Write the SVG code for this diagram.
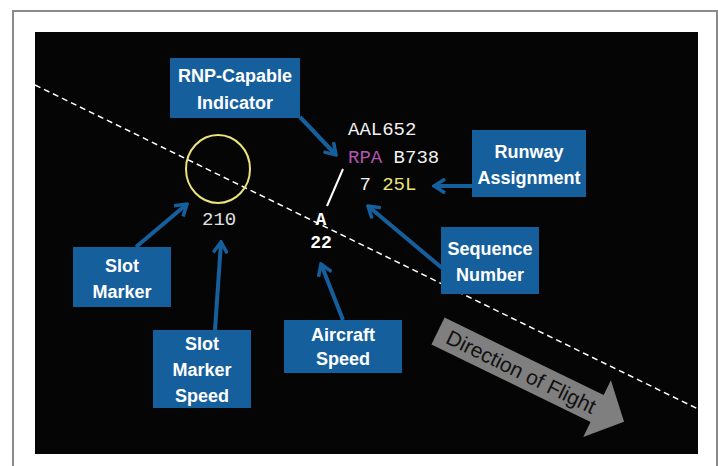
<svg xmlns="http://www.w3.org/2000/svg" width="718" height="466" viewBox="0 0 718 466">
<defs>
<style>
.box{fill:#165f9d}
.lbl{font-family:"Liberation Sans",Arial,sans-serif;font-weight:bold;font-size:18px;fill:#ffffff;text-anchor:middle}
.mono{font-family:"Liberation Mono","DejaVu Sans Mono",monospace;font-size:19px}
.con{stroke:#165f9d;stroke-width:4;fill:none;marker-end:url(#chev)}
</style>
<marker id="chev" viewBox="0 0 14 16" markerWidth="14" markerHeight="16" refX="12" refY="8" orient="auto" markerUnits="userSpaceOnUse">
<path d="M1,1 L12,8 L1,15" fill="none" stroke="#165f9d" stroke-width="3.5"/>
</marker>
</defs>
<rect x="0" y="0" width="718" height="466" fill="#ffffff"/>
<rect x="13" y="11" width="704" height="470" fill="#ffffff" stroke="#8a8a8a" stroke-width="2"/>
<rect x="35" y="32" width="663" height="422" fill="#050505"/>
<line x1="35" y1="85" x2="698" y2="409" stroke="#ffffff" stroke-width="1.5" stroke-dasharray="6,4"/>
<g id="direction">
<g transform="translate(438,331) rotate(26)">
<polygon points="0,-15 177,-15 177,-31.5 207,0 177,31.5 177,15 0,15" fill="#7f7f7f"/>
<text x="11" y="7.5" font-family="Liberation Sans,Arial,sans-serif" font-size="21" fill="#111111">Direction of Flight</text>
</g>
</g>
<g id="slot-marker-circle">
<ellipse cx="218" cy="169" rx="32" ry="34" fill="none" stroke="#ece37a" stroke-width="2"/>
</g>
<g id="data-block">
<text class="mono" x="202" y="225" fill="#e0e0e0">210</text>
<text class="mono" x="348" y="135" fill="#f2f2f2">AAL652</text>
<text class="mono" x="348" y="163"><tspan fill="#b056b0">RPA</tspan><tspan fill="#f2f2f2"> B738</tspan></text>
<text class="mono" x="348" y="190" xml:space="preserve"><tspan fill="#f2f2f2"> 7 </tspan><tspan fill="#ece37a">25L</tspan></text>
<line x1="343" y1="169" x2="327" y2="206" stroke="#ffffff" stroke-width="2"/>
<text x="321" y="225" font-family="Liberation Mono,monospace" font-weight="bold" font-size="18" fill="#ffffff" text-anchor="middle">A</text>
<text x="321" y="248" font-family="Liberation Mono,monospace" font-weight="bold" font-size="18" fill="#ffffff" text-anchor="middle">22</text>
</g>
<g id="connectors">
<line class="con" x1="300" y1="117" x2="336" y2="155"/>
<line class="con" x1="472" y1="186" x2="434" y2="186"/>
<line class="con" x1="442" y1="268" x2="368" y2="206"/>
<line class="con" x1="343" y1="320" x2="321" y2="264"/>
<line class="con" x1="136" y1="247" x2="187" y2="204"/>
<line class="con" x1="215" y1="330" x2="221" y2="242"/>
</g>
<g id="rnp">
<rect class="box" x="170" y="58" width="130" height="60"/>
<text class="lbl" x="235" y="82">RNP-Capable</text>
<text class="lbl" x="235" y="109">Indicator</text>
</g>
<g id="runway">
<rect class="box" x="472" y="130" width="114" height="67"/>
<text class="lbl" x="529" y="158">Runway</text>
<text class="lbl" x="529" y="184">Assignment</text>
</g>
<g id="sequence">
<rect class="box" x="441" y="227" width="98" height="67"/>
<text class="lbl" x="490" y="255">Sequence</text>
<text class="lbl" x="490" y="281">Number</text>
</g>
<g id="slot-marker">
<rect class="box" x="73" y="247" width="98" height="60"/>
<text class="lbl" x="122" y="272">Slot</text>
<text class="lbl" x="122" y="298">Marker</text>
</g>
<g id="slot-marker-speed">
<rect class="box" x="153" y="330" width="98" height="78"/>
<text class="lbl" x="202" y="350">Slot</text>
<text class="lbl" x="202" y="376">Marker</text>
<text class="lbl" x="202" y="402">Speed</text>
</g>
<g id="aircraft-speed">
<rect class="box" x="284" y="320" width="118" height="53"/>
<text class="lbl" x="343" y="341">Aircraft</text>
<text class="lbl" x="343" y="365">Speed</text>
</g>
</svg>
